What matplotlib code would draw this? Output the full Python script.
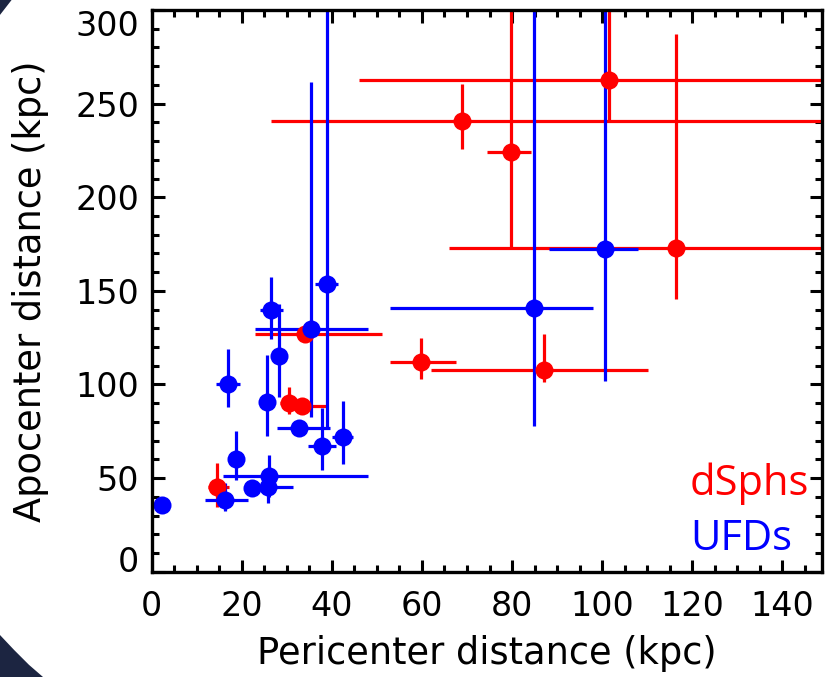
import matplotlib
matplotlib.use("Agg")
import matplotlib.pyplot as plt
from matplotlib.patches import Polygon
import numpy as np

# dSphs (red): value, lower bound, upper bound (bounds past the axes run off the frame)
dsph_x = [101.6, 69.0, 79.7, 116.3, 59.9, 87.0, 34.1, 30.5, 33.4, 14.4]
dsph_x_lo = [46.0, 26.5, 74.4, 66.0, 52.8, 62.1, 22.9, 28.4, 31.0, 12.5]
dsph_x_hi = [200.0, 200.0, 84.3, 200.0, 67.6, 110.1, 51.2, 32.5, 39.2, 17.2]
dsph_y = [262.8, 240.5, 224.1, 172.9, 112.1, 108.0, 126.8, 90.0, 88.6, 45.2]
dsph_y_lo = [240.1, 225.9, 173.1, 145.5, 102.8, 101.1, 124.0, 84.5, 86.0, 34.8]
dsph_y_hi = [400.0, 260.6, 400.0, 287.3, 124.9, 127.2, 130.0, 98.5, 91.0, 58.3]

# UFDs (blue)
ufd_x = [2.2, 16.3, 22.2, 25.9, 26.1, 18.8, 16.9, 25.5, 28.3, 26.6, 35.4, 38.9,
         32.7, 37.9, 42.5, 84.8, 100.7]
ufd_x_lo = [2.2, 11.8, 22.2, 22.5, 15.9, 18.0, 14.3, 25.5, 28.3, 24.0, 22.9, 36.2,
            27.9, 34.7, 40.1, 52.8, 88.2]
ufd_x_hi = [2.2, 21.4, 22.2, 31.4, 48.0, 19.6, 19.6, 25.5, 28.3, 29.2, 48.0, 41.4,
            39.5, 41.0, 44.7, 97.9, 108.0]
ufd_y = [35.6, 38.3, 44.8, 45.4, 51.1, 60.3, 100.5, 90.4, 115.1, 139.7, 129.7, 153.5,
         77.0, 66.9, 72.0, 141.1, 172.6]
ufd_y_lo = [35.6, 32.5, 44.8, 36.8, 40.0, 48.9, 88.0, 72.5, 93.4, 124.5, 82.5, 76.0,
            77.0, 54.3, 57.3, 77.7, 101.8]
ufd_y_hi = [35.6, 47.2, 44.8, 50.0, 62.5, 75.2, 118.7, 116.0, 143.2, 157.2, 261.8, 400.0,
            77.0, 87.2, 91.2, 400.0, 400.0]

x_ticks = [0, 20, 40, 60, 80, 100, 120, 140]
y_ticks = [0, 50, 100, 150, 200, 250, 300]


def err(v, lo, hi):
    v = np.asarray(v)
    return [v - np.asarray(lo), np.asarray(hi) - v]


plt.rcParams['font.family'] = 'DejaVu Sans'

fig = plt.figure(figsize=(8.27, 6.77), dpi=100)

# slide background peeking in at the left corners
dark = '#1c2541'
fig.patches.append(Polygon([[0, 0], [0, 0.062], [0.017, 0.040], [0.035, 0.018],
                            [0.052, 0]], closed=True, transform=fig.transFigure,
                           facecolor=dark, edgecolor='none', zorder=0))
fig.patches.append(Polygon([[0, 1], [0.014, 1], [0, 0.978]], closed=True,
                           transform=fig.transFigure, facecolor=dark,
                           edgecolor='none', zorder=0))

ax = fig.add_axes([0.1834, 0.1555, 0.8105, 0.8297])

ax.errorbar(dsph_x, dsph_y,
            xerr=err(dsph_x, dsph_x_lo, dsph_x_hi),
            yerr=err(dsph_y, dsph_y_lo, dsph_y_hi),
            fmt='o', color='#ff0000', ms=13, mew=0, elinewidth=2.3,
            capsize=3.8, capthick=2.3)
ax.errorbar(ufd_x, ufd_y,
            xerr=err(ufd_x, ufd_x_lo, ufd_x_hi),
            yerr=err(ufd_y, ufd_y_lo, ufd_y_hi),
            fmt='o', color='#0000ff', ms=13, mew=0, elinewidth=2.3,
            capsize=3.8, capthick=2.3)

ax.set_xlim(0, 148.8)
ax.set_ylim(0, 300)
ax.set_xticks(x_ticks)
ax.set_yticks(y_ticks)
ax.set_xticks(np.arange(0, 149, 5), minor=True)
ax.set_yticks(np.arange(0, 301, 10), minor=True)

for s in ax.spines.values():
    s.set_linewidth(2.4)
ax.tick_params(which='both', direction='in', top=True, right=True, width=2.2)
ax.tick_params(which='major', length=9, labelsize=24)
ax.tick_params(which='minor', length=4.8)
ax.tick_params(axis='x', which='major', pad=13)
ax.tick_params(axis='y', which='major', pad=9)

# end labels sit inside the frame, like the original
ylabs = ax.get_yticklabels()
ylabs[0].set_verticalalignment('baseline')
ylabs[-1].set_verticalalignment('top')

ax.set_xlabel('Pericenter distance (kpc)', fontsize=26.5)
ax.set_ylabel('Apocenter distance (kpc)', fontsize=26.5)
ax.xaxis.set_label_coords(0.5, -0.112)
ax.yaxis.set_label_coords(-0.153, 0.5)

ax.text(0.803, 0.1366, 'dSphs', color='#ff0000', fontsize=30,
        family='Open Sans', transform=ax.transAxes, ha='left', va='baseline')
ax.text(0.803, 0.0386, 'UFDs', color='#0000ff', fontsize=30,
        family='Open Sans', transform=ax.transAxes, ha='left', va='baseline')

fig.savefig('out.png', dpi=100)
